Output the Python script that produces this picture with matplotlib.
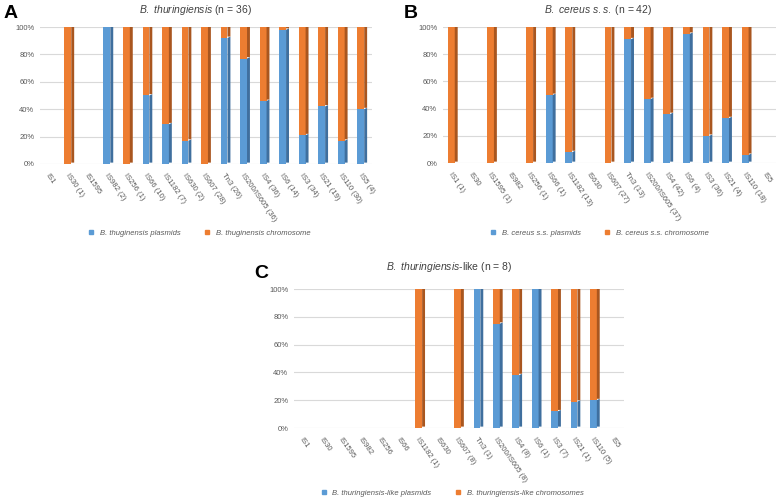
import numpy as np
import matplotlib
matplotlib.use("Agg")
import matplotlib.pyplot as plt
from matplotlib.lines import Line2D

plt.rcParams['font.family'] = ['Liberation Sans', 'DejaVu Sans']
plt.rcParams['mathtext.fontset'] = 'custom'
plt.rcParams['mathtext.rm'] = 'Liberation Sans'
plt.rcParams['mathtext.it'] = 'Liberation Sans:italic'

# -----------------------------
# Data (percent of elements on plasmids; None = no element found)
# -----------------------------
labels_a = ["IS1", "IS30 (1)", "IS1595", "IS982 (2)", "IS256 (1)", "IS66 (10)",
            "IS1182 (7)", "IS630 (2)", "IS607 (28)", "Tn3 (26)", "IS200/IS605 (36)",
            "IS4 (36)", "IS6 (14)", "IS3 (34)", "IS21 (19)", "IS110 (30)", "IS5 (4)"]
plasmid_a = [None, 0, None, 100, 0, 50, 29, 17, 0, 92, 77, 46, 98, 21, 42, 17, 40]

labels_b = ["IS1 (1)", "IS30", "IS1595 (1)", "IS982", "IS256 (1)", "IS66 (1)",
            "IS1182 (13)", "IS630", "IS607 (27)", "Tn3 (13)", "IS200/IS605 (37)",
            "IS4 (42)", "IS6 (4)", "IS3 (36)", "IS21 (4)", "IS110 (18)", "IS5"]
plasmid_b = [0, None, 0, None, 0, 50, 8, None, 0, 91, 47, 36, 95, 20, 33, 6, None]

labels_c = ["IS1", "IS30", "IS1595", "IS982", "IS256", "IS66", "IS1182 (1)",
            "IS630", "IS607 (8)", "Tn3 (1)", "IS200/IS605 (8)", "IS4 (8)",
            "IS6 (1)", "IS3 (7)", "IS21 (1)", "IS110 (5)", "IS5"]
plasmid_c = [None, None, None, None, None, None, 0, None, 0, 100, 75, 38,
             100, 12, 19, 20, None]

BLUE, BLUE_D = "#5B9BD5", "#3F6F9E"
ORANGE, ORANGE_D = "#ED7D31", "#A9561F"
GRID = "#D9D9D9"
TXT = "#595959"

W = 778 / 100
H = 498 / 100
fig = plt.figure(figsize=(W, H), dpi=100)


def px(x0, y0, x1, y1):
    # pixel box -> figure fraction rect
    return [x0 / 778, 1 - y1 / 498, (x1 - x0) / 778, (y1 - y0) / 498]


def bar3d(ax, x, bottom, top, face, side):
    if top - bottom <= 0:
        return
    x0, x1 = x - 0.25, x + 0.10
    d, dy = 0.15, 1.0
    ax.fill([x0, x1, x1, x0], [bottom, bottom, top, top], color=face, lw=0, zorder=3)
    ax.fill([x1, x1 + d, x1 + d, x1], [bottom + dy, bottom + dy, top + dy, top],
            color=side, lw=0, zorder=3)


def panel(rect, labels, plasmid, top_cap=True):
    ax = fig.add_axes(rect)
    n = len(labels)
    for i, p in enumerate(plasmid):
        if p is None:
            continue
        bar3d(ax, i, 0, p, BLUE, BLUE_D)
        bar3d(ax, i, p, 100, ORANGE, ORANGE_D)
        # top cap
        col = BLUE if p >= 100 else ORANGE
        capc = BLUE_D if p >= 100 else ORANGE_D
        ax.fill([i - 0.25, i - 0.10, i + 0.25, i + 0.10],
                [100, 101, 101, 100], color=capc, lw=0, zorder=4)
    ax.set_xlim(-0.5, n - 0.5)
    ax.set_ylim(0, 100)
    ax.set_yticks(np.arange(0, 101, 20))
    ax.set_yticklabels([f"{v}%" for v in range(0, 101, 20)], fontsize=5.5, color=TXT)
    ax.set_xticks(np.arange(n))
    ax.set_xticklabels(labels, rotation=-55, ha="left", va="top",
                       rotation_mode="anchor", fontsize=5.5, color=TXT)
    ax.tick_params(length=0, pad=4)
    ax.tick_params(axis="x", pad=6)
    for s in ax.spines.values():
        s.set_visible(False)
    ax.yaxis.grid(True, color=GRID, lw=0.8, zorder=0)
    ax.set_axisbelow(True)
    return ax


def legend(x, y, lab1, lab2):
    handles = [Line2D([], [], ls="none", marker="s", ms=3.5, color=BLUE),
               Line2D([], [], ls="none", marker="s", ms=3.5, color=ORANGE)]
    fig.legend(handles, [lab1, lab2], loc="center", bbox_to_anchor=(x / 778, 1 - y / 498),
               ncol=2, frameon=False, handletextpad=0.1, columnspacing=2.5,
               prop={"style": "italic", "size": 5.5}, labelcolor=TXT)


# -----------------------------
# Panels
# -----------------------------
panel(px(40, 27, 372, 164), labels_a, plasmid_a)
panel(px(443, 27, 776, 163), labels_b, plasmid_b)
panel(px(294, 289, 624, 428), labels_c, plasmid_c)

fig.text(195 / 778, 1 - 10 / 498, r"$\it{B.\ thuringiensis}$ (n = 36)",
         ha="center", va="center", fontsize=7.5, color="#404040")
fig.text(598 / 778, 1 - 10 / 498, r"$\it{B.\ cereus\ s.s.}$ (n = 42)",
         ha="center", va="center", fontsize=7.5, color="#404040")
fig.text(449 / 778, 1 - 267 / 498, r"$\it{B.\ thuringiensis}$-like (n = 8)",
         ha="center", va="center", fontsize=7.5, color="#404040")

fig.text(11 / 778, 1 - 13 / 498, "A", ha="center", va="center", fontsize=14, weight="bold")
fig.text(411 / 778, 1 - 13 / 498, "B", ha="center", va="center", fontsize=14, weight="bold")
fig.text(261 / 778, 1 - 273 / 498, "C", ha="center", va="center", fontsize=14, weight="bold")

legend(197, 233, "B. thuginensis plasmids", "B. thuginensis chromosome")
legend(597, 233, "B. cereus s.s. plasmids", "B. cereus s.s. chromosome")
legend(450, 493, "B. thuringiensis-like plasmids", "B. thuringiensis-like chromosomes")

fig.savefig("out.png", dpi=100)
